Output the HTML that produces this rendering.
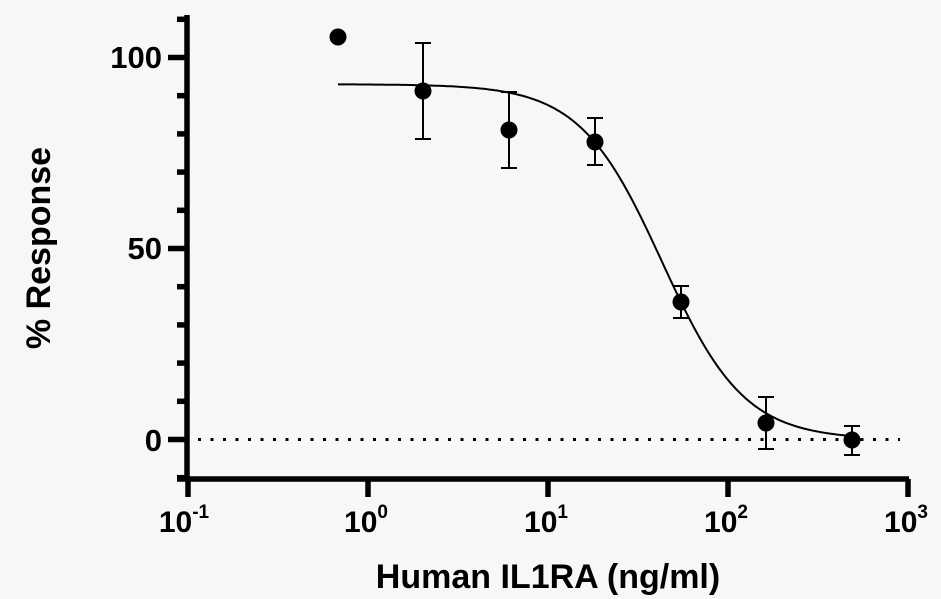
<!DOCTYPE html>
<html><head><style>
html,body{margin:0;padding:0;background:#f8f7f6;}
svg{display:block;font-family:"Liberation Sans",Arial,sans-serif;font-weight:bold;}
</style></head><body>
<svg id="s" width="941" height="599" viewBox="0 0 941 599">
<rect width="941" height="599" fill="#f8f7f6"/>
<g stroke="#000" fill="none">
<line x1="187" y1="15" x2="187" y2="481" stroke-width="5.5"/>
<line x1="177" y1="479" x2="909" y2="479" stroke-width="5.5"/>
<g id="yt" stroke-width="5.5"></g>
<g id="xt" stroke-width="5.5"></g>
<line x1="198" y1="439.5" x2="900" y2="439.5" stroke-width="3" stroke-dasharray="3,9.5"/>
<path id="c" stroke-width="2"/>
<g id="eb" stroke-width="2"></g>
</g>
<g id="pts" fill="#000"></g>
<g font-size="31" text-anchor="end">
<text x="162" y="68">100</text>
<text x="162" y="259">50</text>
<text x="162" y="451">0</text>
</g>
<g font-size="30" text-anchor="middle">
<text x="184" y="532">10<tspan font-size="19" dy="-14">-1</tspan></text>
<text x="366" y="532">10<tspan font-size="19" dy="-14">0</tspan></text>
<text x="546" y="532">10<tspan font-size="19" dy="-14">1</tspan></text>
<text x="726" y="532">10<tspan font-size="19" dy="-14">2</tspan></text>
<text x="906" y="532">10<tspan font-size="19" dy="-14">3</tspan></text>
</g>
<text x="548" y="588" font-size="34" text-anchor="middle">Human IL1RA (ng/ml)</text>
<text transform="translate(50,248) rotate(-90)" font-size="34" text-anchor="middle">% Response</text>
</svg>
<script>
var ns="http://www.w3.org/2000/svg";
function el(p,t,a){var e=document.createElementNS(ns,t);for(var k in a)e.setAttribute(k,a[k]);document.getElementById(p).appendChild(e);}
function Y(v){return 439.5-3.82*v;}
for(var v=-10;v<=110;v+=10){var y=Y(v);var maj=(v%50==0);el("yt","line",{x1:maj?168:177,y1:y,x2:187,y2:y});}
for(var i=0;i<5;i++){var x=188+180*i;el("xt","line",{x1:x,y1:479,x2:x,y2:497});}
function X(c){return 368+180*Math.log10(c);}
var d="";for(var lx=Math.log10(0.68);lx<=Math.log10(510);lx+=0.01){var c=Math.pow(10,lx);var v=93/(1+Math.pow(c/43,1.9));d+=(d?"L":"M")+X(c).toFixed(1)+","+Y(v).toFixed(1);}
document.getElementById("c").setAttribute("d",d);
var P=[[338,37],[423,91,43,139],[509,130,92,168],[595,142,118,165],[681,302,286,318],[766,423,397,449],[852,440,426,455]];
P.forEach(function(p){if(p.length>2){el("eb","line",{x1:p[0],y1:p[2],x2:p[0],y2:p[3]});el("eb","line",{x1:p[0]-8,y1:p[2],x2:p[0]+8,y2:p[2]});el("eb","line",{x1:p[0]-8,y1:p[3],x2:p[0]+8,y2:p[3]});}
el("pts","circle",{cx:p[0],cy:p[1],r:8.5});});
</script>
</body></html>
